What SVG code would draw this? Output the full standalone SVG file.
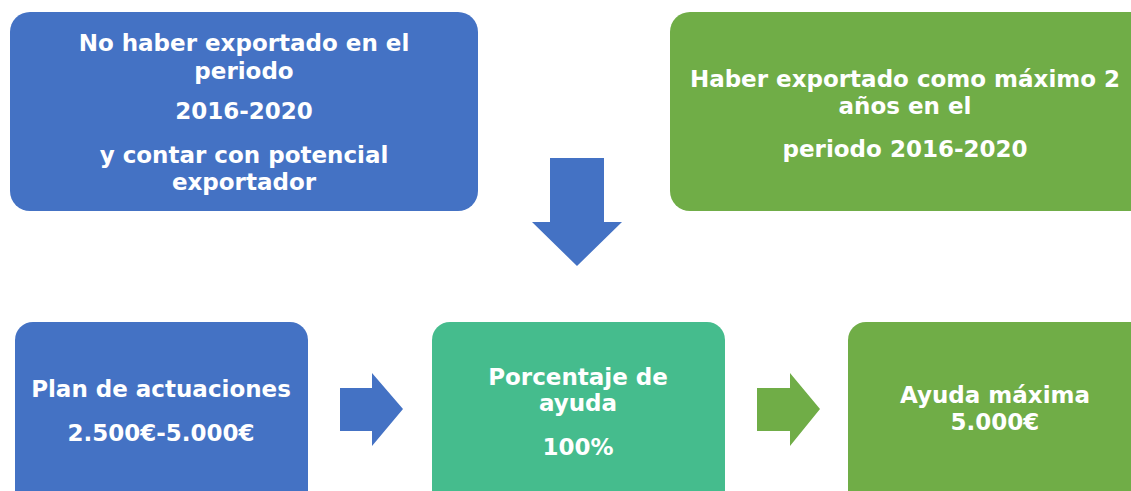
<svg xmlns="http://www.w3.org/2000/svg" width="1131" height="491" viewBox="0 0 1131 491">
<style>
.blue{fill:#4472C4}
.green{fill:#70AD47}
.teal{fill:#45BC8D}
.t{font-family:"DejaVu Sans","Liberation Sans",sans-serif;font-weight:bold;font-size:23px;fill:#fff;text-anchor:middle}
</style>
<rect width="1131" height="491" fill="#fff"/>
<g id="node-no-export">
<rect class="blue" x="10" y="12" width="468" height="199" rx="20"/>
<text class="t" x="244" y="51">No haber exportado en el</text>
<text class="t" x="244" y="79">periodo</text>
<text class="t" x="244" y="119">2016-2020</text>
<text class="t" x="244" y="163">y contar con potencial</text>
<text class="t" x="244" y="190">exportador</text>
</g>
<g id="node-export-2">
<rect class="green" x="670" y="12" width="480" height="199" rx="20"/>
<text class="t" x="905" y="87">Haber exportado como máximo 2</text>
<text class="t" x="905" y="114">años en el</text>
<text class="t" x="905" y="157">periodo 2016-2020</text>
</g>
<g id="node-plan">
<rect class="blue" x="15" y="322" width="293" height="190" rx="18"/>
<text class="t" x="161" y="397">Plan de actuaciones</text>
<text class="t" x="161" y="441">2.500€-5.000€</text>
</g>
<g id="node-porcentaje">
<rect class="teal" x="432" y="322" width="293" height="190" rx="18"/>
<text class="t" x="578" y="385">Porcentaje de</text>
<text class="t" x="578" y="411">ayuda</text>
<text class="t" x="578" y="455">100%</text>
</g>
<g id="node-ayuda">
<rect class="green" x="848" y="322" width="300" height="190" rx="18"/>
<text class="t" x="995" y="403">Ayuda máxima</text>
<text class="t" x="995" y="430">5.000€</text>
</g>
<g id="connectors">
<polygon class="blue" points="550,158 604,158 604,222 622,222 577,266 532,222 550,222"/>
<polygon class="blue" points="340,388 372,388 372,373 403,409 372,446 372,431 340,431"/>
<polygon class="green" points="757,388 790,388 790,373 820,409 790,446 790,431 757,431"/>
</g>
</svg>
